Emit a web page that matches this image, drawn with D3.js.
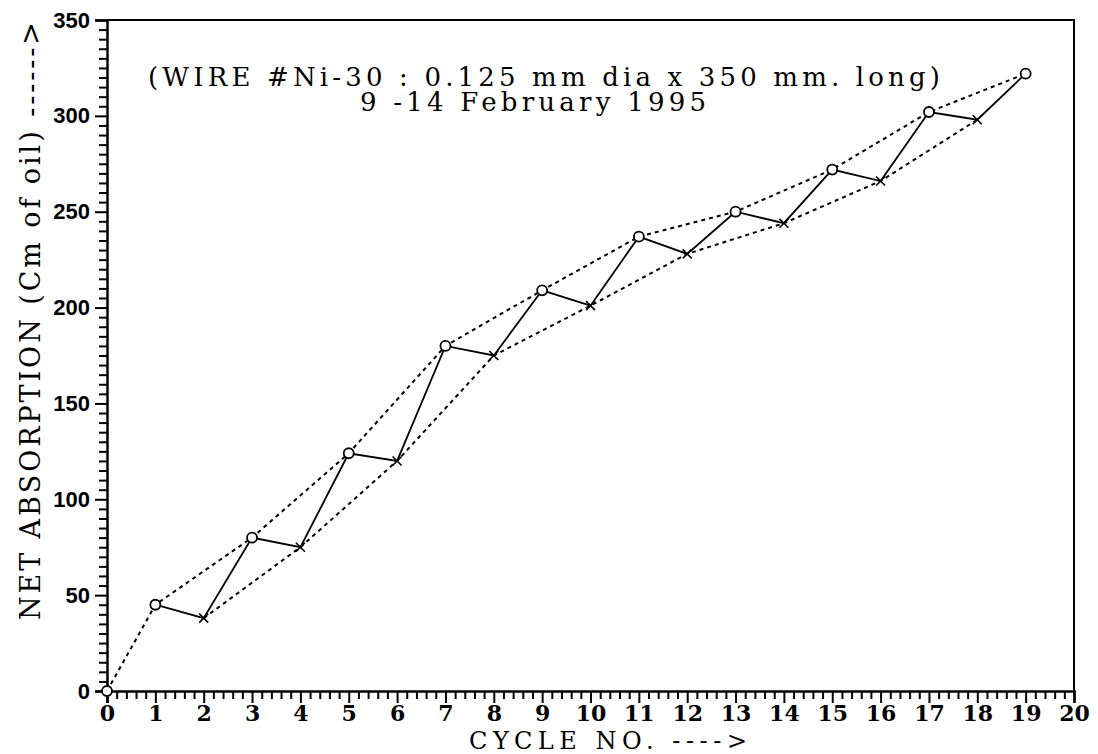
<!DOCTYPE html>
<html><head><meta charset="utf-8">
<script src="https://cdn.jsdelivr.net/npm/d3@7"></script>
<style>html,body{margin:0;padding:0;background:#fff;}</style>
</head><body>
<svg id="chart" width="1098" height="754"></svg>
<script>
const cycles = [0,1,2,3,4,5,6,7,8,9,10,11,12,13,14,15,16,17,18,19];
const absorption = [0,45,38,80,75,124,120,180,175,209,201,237,228,250,244,272,266,302,298,322];
const circleCycles = [0,1,3,5,7,9,11,13,15,17,19];
const crossCycles = [2,4,6,8,10,12,14,16,18];
const xTicks = [0,1,2,3,4,5,6,7,8,9,10,11,12,13,14,15,16,17,18,19,20];
const yTicks = [0,50,100,150,200,250,300,350];
const titleLines = ["(WIRE #Ni-30 : 0.125 mm dia x 350 mm. long)", "9 -14 February 1995"];
const xTitle = "CYCLE NO. ---->";
const yTitle = "NET ABSORPTION (Cm of oil) ------>";

const svg = d3.select("#chart");
const x = d3.scaleLinear().domain([0,20]).range([107,1074]);
const y = d3.scaleLinear().domain([0,350]).range([691,20]);
const val = c => absorption[cycles.indexOf(c)];

// frame
svg.append("path").attr("d", `M${x(0)},${y(350)}H${x(20)}V${y(0)}`)
  .attr("fill","none").attr("stroke","#000").attr("stroke-width",2);

// x axis: all ticks every 0.2, majors at integers
const xAll = d3.range(0, 101).map(i => i / 5);
const isXMajor = d => Math.abs(d - Math.round(d)) < 1e-6;
const gx = svg.append("g").attr("transform",`translate(0,${y(0)})`)
  .call(d3.axisBottom(x).tickValues(xAll).tickSize(12).tickPadding(2)
    .tickFormat(d => isXMajor(d) ? d3.format("d")(d) : ""));
gx.selectAll(".tick line").attr("stroke","#000").attr("stroke-width",2)
  .attr("y2", d => isXMajor(d) ? 12 : 8);
gx.selectAll(".tick").filter(d => !isXMajor(d)).select("text").remove();
gx.selectAll("text").attr("font-family","DejaVu Serif").attr("font-size",22).attr("font-weight","bold").attr("fill","#000");
gx.select(".domain").attr("stroke","#000").attr("stroke-width",2.5);

// y axis: all ticks every 5, majors every 50
const yAll = d3.range(0, 71).map(i => i * 5);
const isYMajor = d => d % 50 === 0;
const gy = svg.append("g").attr("transform",`translate(${x(0)},0)`)
  .call(d3.axisLeft(y).tickValues(yAll).tickSize(12).tickPadding(5)
    .tickFormat(d => isYMajor(d) ? d3.format("d")(d) : ""));
gy.selectAll(".tick line").attr("stroke","#000").attr("stroke-width",2)
  .attr("x2", d => isYMajor(d) ? -12 : -8);
gy.selectAll(".tick").filter(d => !isYMajor(d)).select("text").remove();
gy.selectAll("text").attr("font-family","Liberation Sans").attr("font-size",22).attr("font-weight","bold").attr("fill","#000");
gy.select(".domain").attr("stroke","#000").attr("stroke-width",2.5);

const line = d3.line().x(c => x(c)).y(c => y(val(c)));

// dotted envelope lines
svg.append("path").datum(circleCycles).attr("d", line)
  .attr("fill","none").attr("stroke","#000").attr("stroke-width",2).attr("stroke-dasharray","4,4");
svg.append("path").datum(crossCycles).attr("d", line)
  .attr("fill","none").attr("stroke","#000").attr("stroke-width",2).attr("stroke-dasharray","4,4");

// solid zigzag
svg.append("path").datum(cycles.filter(c => c >= 1)).attr("d", line)
  .attr("fill","none").attr("stroke","#000").attr("stroke-width",1.8);

// markers
svg.selectAll("circle.m").data(circleCycles).join("circle")
  .attr("cx", c => x(c)).attr("cy", c => y(val(c))).attr("r",5)
  .attr("fill","#fff").attr("stroke","#000").attr("stroke-width",1.8);
svg.selectAll("path.x").data(crossCycles).join("path")
  .attr("d", c => { const px = x(c), py = y(val(c)), s = 4.5;
    return `M${px-s},${py-s}L${px+s},${py+s}M${px-s},${py+s}L${px+s},${py-s}`; })
  .attr("stroke","#000").attr("stroke-width",1.6);

// titles
svg.append("text").attr("x",148).attr("y",86).text(titleLines[0])
  .attr("font-family","DejaVu Serif").attr("font-size",26)
  .attr("textLength",792).attr("lengthAdjust","spacing");
svg.append("text").attr("x",360).attr("y",111).text(titleLines[1])
  .attr("font-family","DejaVu Serif").attr("font-size",26)
  .attr("textLength",346).attr("lengthAdjust","spacing");

svg.append("text").attr("x",469).attr("y",749).text(xTitle)
  .attr("font-family","DejaVu Serif").attr("font-size",24)
  .attr("textLength",278).attr("lengthAdjust","spacing");

svg.append("text").attr("transform","translate(40,620) rotate(-90)").text(yTitle)
  .attr("font-family","DejaVu Serif").attr("font-size",27)
  .attr("textLength",598).attr("lengthAdjust","spacing");
</script>
</body></html>
